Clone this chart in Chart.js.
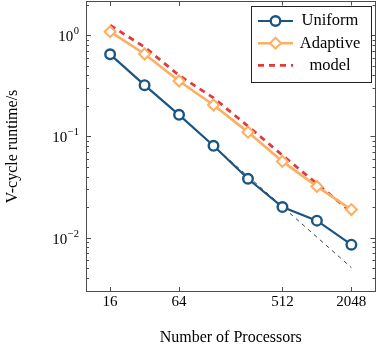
<!DOCTYPE html>
<html>
<head>
<meta charset="utf-8">
<script src="https://cdn.jsdelivr.net/npm/chart.js@4.4.1/dist/chart.umd.min.js"></script>
<style>
  html, body { margin: 0; padding: 0; background: #fff; }
  #wrap { width: 378px; height: 347px; }
</style>
</head>
<body>
<div id="wrap"><canvas id="runtime"></canvas></div>
<script>
const processors = [16, 32, 64, 128, 256, 512, 1024, 2048];
const uniform = [0.645, 0.32, 0.163, 0.0806, 0.0381, 0.0200, 0.0147, 0.0085];
const adaptive = [1.08, 0.65, 0.352, 0.204, 0.110, 0.0565, 0.032, 0.0189];
const model = [1.25, 0.76, 0.40, 0.24, 0.126, 0.065, 0.034, 0.0178];
const ideal = [0.645, 0.3225, 0.161, 0.0806, 0.0403, 0.0202, 0.0101, 0.00505];

const xTicks = [16, 64, 512, 2048];
const yTicks = [1, 0.1, 0.01];
const yTickExponents = ["0", "\u22121", "\u22122"];

const serif = "'Liberation Serif', 'DejaVu Serif', serif";
const blue = "#1b5583";
const orange = "#fdae61";
const red = "#e5383b";

function pairs(ys) {
  return processors.map((p, i) => ({ x: p, y: ys[i] }));
}

// pgfplots-like frame, inward ticks, y labels with exponents, boxed legend
const pgfAxis = {
  id: "pgfAxis",
  afterDraw(chart) {
    const ctx = chart.ctx;
    const area = chart.chartArea;
    const xs = chart.scales.x;
    const ys = chart.scales.y;
    ctx.save();
    ctx.setLineDash([]);
    ctx.strokeStyle = "#4d4d4d";
    ctx.lineWidth = 1;

    ctx.beginPath();
    xTicks.forEach((v) => {
      const px = Math.round(xs.getPixelForValue(v)) + 0.5;
      ctx.moveTo(px, area.bottom); ctx.lineTo(px, area.bottom - 5);
      ctx.moveTo(px, area.top); ctx.lineTo(px, area.top + 5);
    });
    for (let d = -3; d <= 0; d++) {
      for (let m = 1; m <= 9; m++) {
        const v = m * Math.pow(10, d);
        if (v < ys.min || v > ys.max) continue;
        const len = m === 1 ? 5 : 3;
        const py = Math.round(ys.getPixelForValue(v)) + 0.5;
        ctx.moveTo(area.left, py); ctx.lineTo(area.left + len, py);
        ctx.moveTo(area.right, py); ctx.lineTo(area.right - len, py);
      }
    }
    ctx.stroke();
    ctx.strokeRect(Math.round(area.left) + 0.5, Math.round(area.top) + 0.5,
      Math.round(area.right - area.left) - 1, Math.round(area.bottom - area.top) - 1);

    // y tick labels 10^n
    ctx.fillStyle = "#000";
    ctx.textBaseline = "alphabetic";
    ctx.textAlign = "left";
    yTicks.forEach((v, i) => {
      const py = ys.getPixelForValue(v);
      ctx.font = "10.5px " + serif;
      const ew = ctx.measureText(yTickExponents[i]).width;
      ctx.font = "15px " + serif;
      const bw = ctx.measureText("10").width;
      const right = area.left - 7;
      ctx.fillText("10", right - ew - bw - 0.5, py + 6);
      ctx.font = "10.5px " + serif;
      ctx.fillText(yTickExponents[i], right - ew, py - 1);
    });

    // legend
    const items = chart.data.datasets.slice(0, 3);
    const bx = area.right - 124.5, by = area.top + 4.5, bw = 120, bh = 76;
    ctx.fillStyle = "#fff";
    ctx.fillRect(bx, by, bw, bh);
    ctx.strokeStyle = "#222";
    ctx.lineWidth = 1;
    ctx.strokeRect(Math.round(bx) + 0.5, Math.round(by) + 0.5, bw, bh);
    items.forEach((ds, i) => {
      const ry = by + 15.5 + i * 22.2;
      ctx.strokeStyle = ds.borderColor;
      ctx.lineWidth = ds.borderWidth;
      ctx.setLineDash(ds.borderDash || []);
      ctx.beginPath();
      ctx.moveTo(bx + 7, ry); ctx.lineTo(bx + 42, ry);
      ctx.stroke();
      ctx.setLineDash([]);
      if (ds.pointRadius > 0) {
        ctx.fillStyle = ds.pointBackgroundColor;
        ctx.strokeStyle = ds.borderColor;
        ctx.lineWidth = ds.pointBorderWidth;
        Chart.helpers.drawPoint(ctx, {
          pointStyle: ds.pointStyle,
          radius: ds.pointRadius,
          borderWidth: ds.pointBorderWidth,
        }, bx + 24.5, ry);
      }
      ctx.fillStyle = "#000";
      ctx.font = "16.5px " + serif;
      ctx.textAlign = "center";
      ctx.textBaseline = "middle";
      ctx.fillText(ds.label, bx + 79, ry);
    });
    ctx.restore();
  },
};

const config = {
  type: "line",
  data: {
    datasets: [
      {
        label: "Uniform",
        data: pairs(uniform),
        borderColor: blue,
        backgroundColor: "#fff",
        pointBackgroundColor: "#fff",
        borderWidth: 2.2,
        pointStyle: "circle",
        pointRadius: 4.8,
        pointBorderWidth: 2.4,
      },
      {
        label: "Adaptive",
        data: pairs(adaptive),
        borderColor: orange,
        backgroundColor: "#fff",
        pointBackgroundColor: "#fff",
        borderWidth: 2.6,
        pointStyle: "rectRot",
        pointRadius: 5.5,
        pointBorderWidth: 2,
      },
      {
        label: "model",
        data: pairs(model),
        borderColor: red,
        borderWidth: 2.8,
        borderDash: [6, 5],
        pointRadius: 0,
      },
      {
        label: "ideal",
        data: pairs(ideal),
        borderColor: "#111",
        borderWidth: 0.8,
        borderDash: [4, 4],
        pointRadius: 0,
      },
    ],
  },
  options: {
    responsive: true,
    maintainAspectRatio: false,
    animation: false,
    layout: { autoPadding: false, padding: { top: 1, right: 2.5, left: 0, bottom: 0 } },
    plugins: {
      legend: { display: false },
      tooltip: { enabled: false },
    },
    scales: {
      x: {
        type: "logarithmic",
        min: 9.85,
        max: 3327,
        afterBuildTicks: (scale) => {
          scale.ticks = xTicks.map((v) => ({ value: v }));
        },
        afterFit: (scale) => {
          scale.height = 55;
          scale.paddingLeft = 0;
          scale.paddingRight = 0;
        },
        grid: { display: false, drawTicks: false, tickLength: 0 },
        border: { display: false },
        ticks: {
          autoSkip: false,
          maxRotation: 0,
          padding: 1,
          color: "#000",
          font: { family: serif, size: 15 },
          callback: (v) => String(v),
        },
        title: {
          display: true,
          text: "Number of Processors",
          color: "#000",
          font: { family: serif, size: 16 },
          padding: { top: 0, bottom: 0 },
        },
      },
      y: {
        type: "logarithmic",
        min: 0.0029,
        max: 2.17,
        afterFit: (scale) => {
          scale.width = 86;
          scale.paddingTop = 0;
          scale.paddingBottom = 0;
        },
        grid: { display: false, drawTicks: false, tickLength: 0 },
        border: { display: false },
        ticks: { display: false },
        title: {
          display: true,
          text: "V-cycle runtime/s",
          color: "#000",
          font: { family: serif, size: 16 },
          padding: { top: 3, bottom: 0 },
        },
      },
    },
  },
  plugins: [pgfAxis],
};

new Chart(document.getElementById("runtime"), config);
</script>
</body>
</html>
